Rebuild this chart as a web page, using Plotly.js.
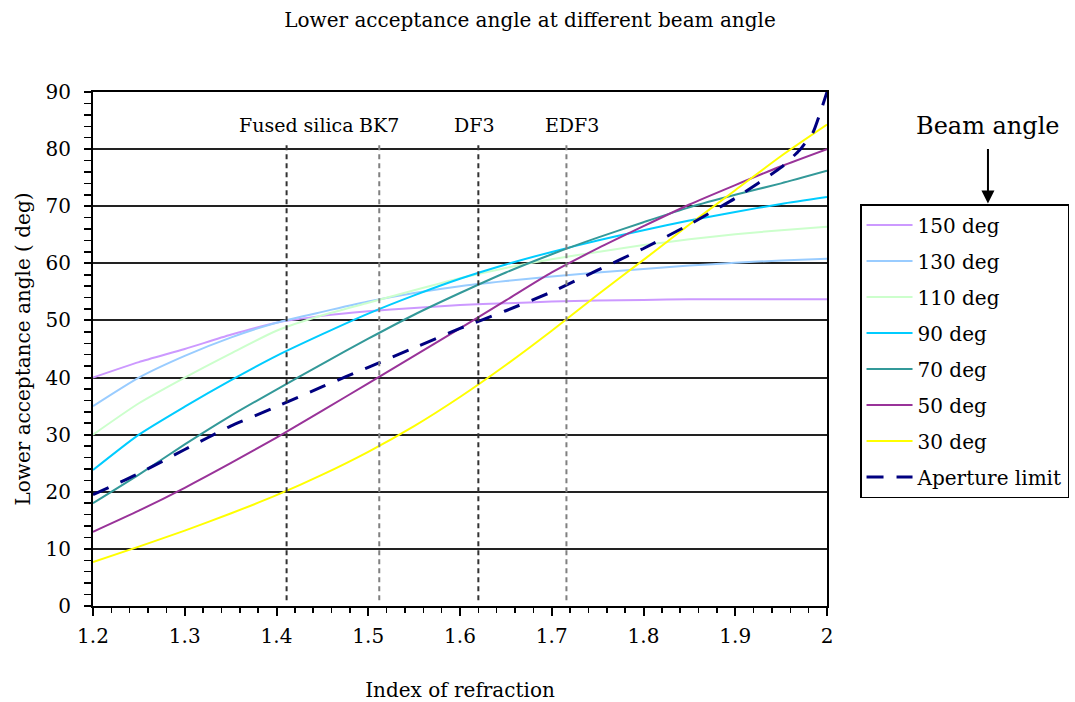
<!DOCTYPE html>
<html>
<head>
<meta charset="utf-8">
<script src="https://cdn.plot.ly/plotly-3.0.1.min.js"></script>
<style>
  html, body { margin: 0; padding: 0; background: #ffffff; }
  #chart { width: 1075px; height: 702px; }
</style>
</head>
<body>
<div id="chart"></div>
<script>
// ---- Data ----
const nIndex = [1.2, 1.25, 1.3, 1.35, 1.4, 1.45, 1.5, 1.55, 1.6, 1.65, 1.7, 1.75, 1.8, 1.85, 1.9, 1.95, 2.0];

const beam150 = [40, 42.7, 45, 47.5, 49.6, 50.8, 51.6, 52.2, 52.7, 53.0, 53.3, 53.5, 53.6, 53.7, 53.7, 53.7, 53.7];
const beam130 = [35, 40, 43.8, 47, 49.6, 51.5, 53.3, 54.8, 56.0, 56.9, 57.7, 58.4, 59.0, 59.6, 60.1, 60.5, 60.8];
const beam110 = [30, 35.5, 40, 44.2, 48.2, 50.9, 53.1, 55.3, 57.4, 59.2, 60.7, 62.0, 63.2, 64.2, 65.1, 65.8, 66.4];
const beam90  = [23.8, 30, 34.9, 39.5, 43.8, 47.6, 51.2, 54.4, 57.3, 59.8, 62.0, 64.0, 65.8, 67.5, 69.0, 70.4, 71.6];
const beam70  = [18, 23, 28.3, 33.3, 37.9, 42.4, 46.8, 51.0, 54.8, 58.4, 61.6, 64.5, 67.2, 69.8, 72.0, 74.0, 76.2];
const beam50  = [13, 16.7, 20.7, 25.0, 29.5, 34.2, 39.0, 43.8, 48.6, 53.5, 58.4, 62.6, 66.5, 70.3, 73.7, 77.0, 80.0];
const beam30  = [7.7, 10.4, 13.2, 16.2, 19.4, 23.0, 27.0, 31.5, 36.6, 42.2, 48.2, 54.5, 60.6, 66.8, 72.8, 78.8, 84.3];

const apertureIndex = [1.2, 1.25, 1.3, 1.35, 1.4, 1.45, 1.5, 1.55, 1.6, 1.65, 1.7, 1.75, 1.8, 1.85, 1.9, 1.95, 1.97, 1.985, 2.0];
const apertureLimit = [19.5, 23.2, 27.4, 31.5, 34.9, 38.4, 41.8, 45.2, 48.6, 51.7, 55.0, 58.8, 62.6, 66.8, 71.4, 76.8, 79.8, 83.0, 90.0];

const seriesNames = ['150 deg', '130 deg', '110 deg', '90 deg', '70 deg', '50 deg', '30 deg'];
const seriesValues = [beam150, beam130, beam110, beam90, beam70, beam50, beam30];
const seriesColors = ['#CC99FF', '#99CCFF', '#CCFFCC', '#00CCFF', '#339999', '#993399', '#FFFF00'];

const glassNames = ['Fused silica', 'BK7', 'DF3', 'EDF3'];
const glassIndex = [1.411, 1.512, 1.62, 1.716];
const glassLineColors = ['#333333', '#808080', '#333333', '#808080'];
const glassLabelShift = [10, 0, -4, 6];

const FONT = 'DejaVu Serif, Liberation Serif, serif';

// ---- Traces ----
const traces = seriesNames.map((name, i) => ({
  type: 'scatter',
  mode: 'lines',
  name: name,
  x: nIndex,
  y: seriesValues[i],
  legendgroup: 'g' + i,
  line: { color: seriesColors[i], width: 2, shape: 'spline', smoothing: 0.6 },
  hoverinfo: 'x+y+name'
}));

traces.push({
  type: 'scatter',
  mode: 'lines',
  name: 'Aperture limit',
  x: apertureIndex,
  y: apertureLimit,
  legendgroup: 'ap',
  line: { color: '#000080', width: 3, dash: '17px,13px', shape: 'spline', smoothing: 0.4 }
});

// ---- Glass reference lines & labels ----
const shapes = glassIndex.map((g, i) => ({
  type: 'line', xref: 'x', yref: 'y',
  x0: g, x1: g, y0: 1, y1: 81,
  line: { color: glassLineColors[i], width: 2, dash: '5px,4px' }
}));

const annotations = glassIndex.map((g, i) => ({
  xref: 'x', yref: 'y', x: g, y: 84.2,
  xanchor: 'center', yanchor: 'middle',
  xshift: glassLabelShift[i],
  text: glassNames[i], showarrow: false,
  font: { family: FONT, size: 19, color: '#000000' }
}));

annotations.push({
  xref: 'paper', yref: 'paper',
  x: 1.2193, y: 0.783,
  ax: 0, ay: -78,
  text: 'Beam angle', showarrow: true,
  arrowhead: 2, arrowsize: 1.3, arrowwidth: 2, arrowcolor: '#000000',
  startstandoff: 8,
  font: { family: FONT, size: 24, color: '#000000' }
});

const layout = {
  width: 1075, height: 702,
  margin: { l: 93, r: 248, t: 92, b: 96, autoexpand: false },
  paper_bgcolor: '#ffffff',
  plot_bgcolor: '#ffffff',
  font: { family: FONT, size: 20, color: '#000000' },
  title: {
    text: 'Lower acceptance angle at different beam angle',
    xref: 'container', yref: 'container',
    x: 0.493, y: 0.972, xanchor: 'center', yanchor: 'middle',
    font: { family: FONT, size: 20, color: '#000000' }
  },
  xaxis: {
    range: [1.2, 2.0],
    tickvals: [1.2, 1.3, 1.4, 1.5, 1.6, 1.7, 1.8, 1.9, 2.0],
    ticktext: ['1.2', '1.3', '1.4', '1.5', '1.6', '1.7', '1.8', '1.9', '2'],
    ticks: 'outside', ticklen: 8, tickwidth: 2, tickcolor: '#000000',
    ticklabelstandoff: 3,
    minor: { dtick: 0.02, tick0: 1.2, ticks: 'outside', ticklen: 5, tickwidth: 1.5, tickcolor: '#000000', showgrid: false },
    showgrid: false, zeroline: false,
    showline: true, linecolor: '#000000', linewidth: 2, mirror: true,
    tickfont: { family: FONT, size: 20, color: '#000000' },
    title: { text: 'Index of refraction', standoff: 38, font: { family: FONT, size: 20, color: '#000000' } },
    automargin: false,
    fixedrange: true
  },
  yaxis: {
    range: [0, 90],
    dtick: 10, tick0: 0,
    ticks: 'outside', ticklen: 7, tickwidth: 2, tickcolor: '#000000',
    ticklabelstandoff: 9,
    minor: { dtick: 2, tick0: 0, ticks: 'outside', ticklen: 7, tickwidth: 1.5, tickcolor: '#000000', showgrid: false },
    showgrid: true, gridcolor: '#222222', gridwidth: 2,
    zeroline: false,
    showline: true, linecolor: '#000000', linewidth: 2, mirror: true,
    tickfont: { family: FONT, size: 20, color: '#000000' },
    title: { text: 'Lower acceptance angle ( deg)', standoff: 10, font: { family: FONT, size: 20, color: '#000000' } },
    automargin: false,
    fixedrange: true
  },
  showlegend: true,
  legend: {
    x: 1.045, y: 0.782, xanchor: 'left', yanchor: 'top',
    bgcolor: '#ffffff', bordercolor: '#000000', borderwidth: 1.5,
    traceorder: 'grouped', tracegroupgap: 7,
    font: { family: FONT, size: 20, color: '#000000' },
    itemwidth: 46
  },
  shapes: shapes,
  annotations: annotations
};

Plotly.newPlot('chart', traces, layout, { displayModeBar: false, staticPlot: true });
</script>
</body>
</html>
